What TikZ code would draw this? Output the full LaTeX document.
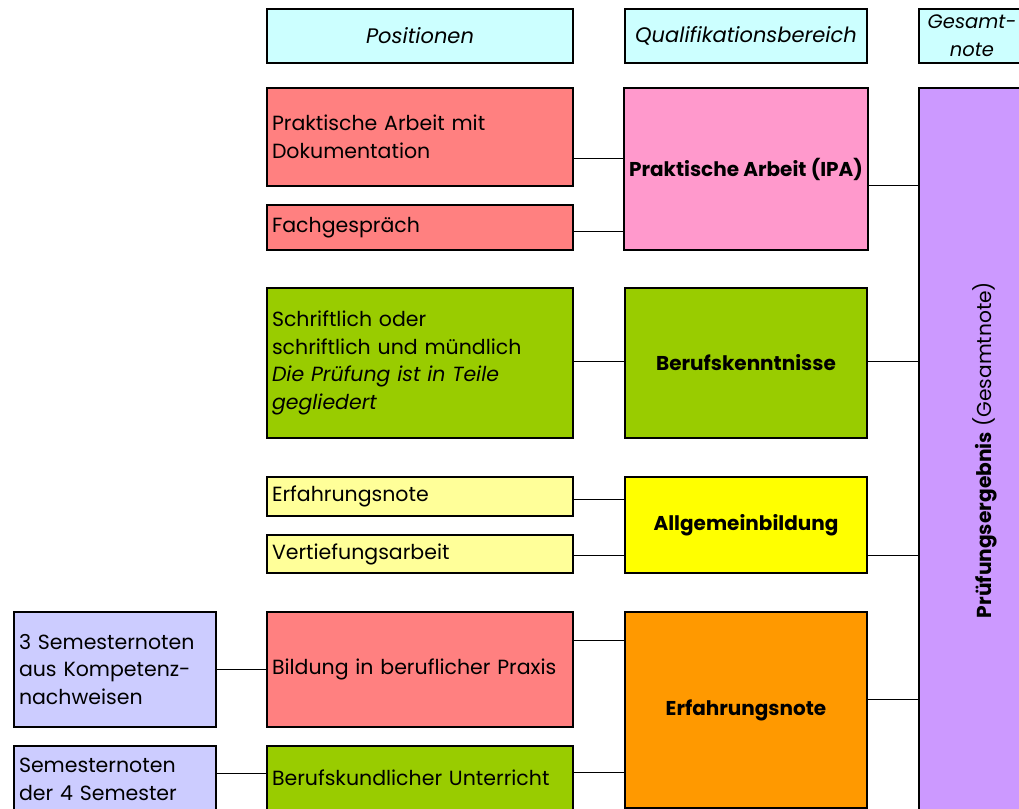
\documentclass[tikz,border=0pt]{standalone}
\usepackage{fontspec}
\setmainfont{Poppins}
\usetikzlibrary{positioning}

\definecolor{kopf}{HTML}{CCFFFF}
\definecolor{rot}{HTML}{FF8080}
\definecolor{rosa}{HTML}{FF99CC}
\definecolor{lila}{HTML}{CC99FF}
\definecolor{gruen}{HTML}{99CC00}
\definecolor{hellgelb}{HTML}{FFFF99}
\definecolor{gelb}{HTML}{FFFF00}
\definecolor{orange}{HTML}{FF9900}
\definecolor{blau}{HTML}{CCCCFF}

\tikzset{
  box/.style={draw, line width=1.5pt, inner sep=5pt, font=\fontsize{20.5}{27.7}\selectfont},
  kopfbox/.style={box, fill=kopf, align=center, minimum height=54pt, font=\fontsize{21}{27.7}\selectfont},
  posbox/.style={box, minimum width=306pt, text width=296pt, align=left},
  qualbox/.style={box, minimum width=242pt, align=center, font=\fontsize{20}{27.7}\selectfont\bfseries},
  semboxstyle/.style={box, fill=blau, minimum width=202pt, text width=192pt, align=left},
  verbindung/.style={line width=0.8pt}
}

\begin{document}
\begin{tikzpicture}[x=1pt,y=-1pt]
    \useasboundingbox (0,0) rectangle (1019,808);
    \clip (0,0) rectangle (1019,808);
    % Kopfzeile
    \node[kopfbox, minimum width=306pt] (hpos) at (420,36) {\itshape Positionen};
    \node[kopfbox, minimum width=242pt] (hqual) at (746,36) {\itshape Qualifikationsbereich};
    \node[kopfbox, minimum width=106pt, font=\fontsize{19.5}{27.7}\selectfont] (hges) at (972,36) {\itshape Gesamt-\\\itshape note};
    % Gesamtnote
    \node[box, fill=lila, minimum width=132pt, minimum height=724pt] (erg) at (985,450) {};
    \node[rotate=90, font=\fontsize{20.2}{24}\selectfont] (ergtext) at (erg.center) {\textbf{Prüfungsergebnis} (Gesamtnote)};
    % Praktische Arbeit
    \node[posbox, fill=rot, minimum height=98pt] (praxdok) at (420,137) {Praktische Arbeit mit\\Dokumentation};
    \node[posbox, fill=rot, minimum height=45pt] (fach) at (420,227.5) {Fachgespräch};
    \node[qualbox, fill=rosa, minimum height=162pt] (ipa) at (746,169) {Praktische Arbeit (IPA)};
    % Berufskenntnisse
    \node[posbox, fill=gruen, minimum height=150pt] (schrift) at (420,363) {Schriftlich oder\\schriftlich und mündlich\\\textit{Die Prüfung ist in Teile}\\\textit{gegliedert}};
    \node[qualbox, fill=gruen, minimum height=150pt] (beruf) at (746,363) {Berufskenntnisse};
    % Allgemeinbildung
    \node[posbox, fill=hellgelb, minimum height=39pt] (erfnote) at (420,496.5) {Erfahrungsnote};
    \node[posbox, fill=hellgelb, minimum height=38pt] (vert) at (420,554) {Vertiefungsarbeit};
    \node[qualbox, fill=gelb, minimum height=96pt] (allg) at (746,525) {Allgemeinbildung};
    % Erfahrungsnote
    \node[posbox, fill=rot, minimum height=115pt] (bildung) at (420,669.5) {Bildung in beruflicher Praxis};
    \node[posbox, fill=gruen, minimum height=64pt] (unterricht) at (420,778) {Berufskundlicher Unterricht};
    \node[qualbox, fill=orange, minimum height=196pt] (erfahrung) at (746,710) {Erfahrungsnote};
    \node[semboxstyle, minimum height=115pt] (sem3) at (115,669.5) {3 Semesternoten\\aus Kompetenz-\\nachweisen};
    \node[semboxstyle, minimum height=66pt] (sem4) at (115,779) {Semesternoten\\der 4 Semester};
    % Verbindungen
    \draw[verbindung] ([yshift=-21pt]praxdok.east) -- ([yshift=-21pt]praxdok.east -| ipa.west);
    \draw[verbindung] ([yshift=-3.5pt]fach.east) -- ([yshift=-3.5pt]fach.east -| ipa.west);
    \draw[verbindung] ([yshift=-16pt]ipa.east) -- ([yshift=-16pt]ipa.east -| erg.west);
    \draw[verbindung] ([yshift=2pt]schrift.east) -- ([yshift=2pt]schrift.east -| beruf.west);
    \draw[verbindung] ([yshift=2pt]beruf.east) -- ([yshift=2pt]beruf.east -| erg.west);
    \draw[verbindung] ([yshift=-2.5pt]erfnote.east) -- ([yshift=-2.5pt]erfnote.east -| allg.west);
    \draw[verbindung] ([yshift=-1pt]vert.east) -- ([yshift=-1pt]vert.east -| allg.west);
    \draw[verbindung] ([yshift=-30pt]allg.east) -- ([yshift=-30pt]allg.east -| erg.west);
    \draw[verbindung] ([yshift=29.5pt]bildung.east) -- ([yshift=29.5pt]bildung.east -| erfahrung.west);
    \draw[verbindung] ([yshift=6pt]unterricht.east) -- ([yshift=6pt]unterricht.east -| erfahrung.west);
    \draw[verbindung] ([yshift=11pt]erfahrung.east) -- ([yshift=11pt]erfahrung.east -| erg.west);
    \draw[verbindung] (sem3.east) -- (sem3.east -| bildung.west);
    \draw[verbindung] ([yshift=6pt]sem4.east) -- ([yshift=6pt]sem4.east -| unterricht.west);
\end{tikzpicture}
\end{document}
